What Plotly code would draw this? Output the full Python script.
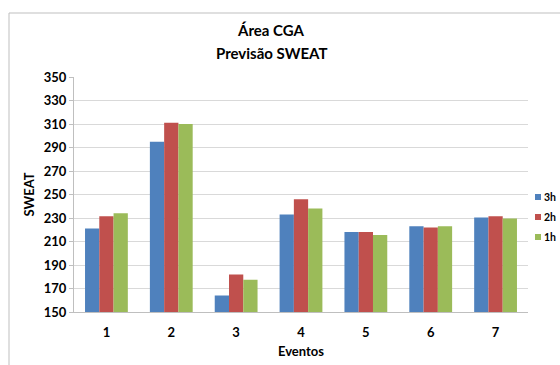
import plotly.graph_objects as go

# SWEAT forecasts per event, by lead time
eventos = ["1", "2", "3", "4", "5", "6", "7"]
series_names = ["3h", "2h", "1h"]
sweat_3h = [221, 295, 164, 233, 218, 223, 230.5]
sweat_2h = [231.5, 311, 182, 246, 218, 222, 231.5]
sweat_1h = [234, 310, 177.5, 238, 215.5, 223, 229.5]
y_ticks = [150, 170, 190, 210, 230, 250, 270, 290, 310, 330, 350]

colors = ["#4F81BD", "#C0504D", "#9BBB59"]
font_family = "Lato, 'Open Sans', sans-serif"

W, H = 560, 365
L, R, T, B = 74, 32, 77, 53
PW, PH = W - L - R, H - T - B


def px_x(px):
    return (px - L) / PW


def px_y(py):
    return (H - B - py) / PH


fig = go.Figure()
for name, vals, col in zip(series_names, [sweat_3h, sweat_2h, sweat_1h], colors):
    fig.add_trace(go.Bar(
        x=eventos, y=vals, name=name, marker_color=col,
        marker_line_width=0, showlegend=False,
    ))

fig.update_layout(
    width=W, height=H,
    margin=dict(l=L, r=R, t=T, b=B, autoexpand=False),
    paper_bgcolor="white", plot_bgcolor="white",
    barmode="group", bargap=0.34, bargroupgap=0,
    font=dict(family=font_family, color="#000000"),
    showlegend=False,
)

# two-line chart title
for text, py in [("Área CGA", 30), ("Previsão SWEAT", 53)]:
    fig.add_annotation(
        text=f"<b>{text}</b>", xref="paper", yref="paper",
        x=px_x(271), y=px_y(py), xanchor="center", yanchor="middle",
        showarrow=False, font=dict(size=15, family=font_family),
    )

# legend: small squares with series names on the right
for (name, col), py in zip(zip(series_names, colors), [197, 217, 237]):
    fig.add_shape(type="rect", xref="paper", yref="paper",
                  x0=px_x(535), x1=px_x(541), y0=px_y(py + 3), y1=px_y(py - 3),
                  fillcolor=col, line=dict(width=0))
    fig.add_annotation(
        text=f"<b>{name}</b>", xref="paper", yref="paper",
        x=px_x(542), y=px_y(py), xanchor="left", yanchor="middle",
        showarrow=False, font=dict(size=10.5, family=font_family),
    )

fig.update_xaxes(
    title=dict(text="<b>Eventos</b>", font=dict(size=13), standoff=8),
    tickfont=dict(size=13, weight="bold"),
    showgrid=False, showline=True, linecolor="#bfbfbf", linewidth=1,
    ticks="", ticklabelstandoff=8,
)
fig.update_yaxes(
    title=dict(text="<b>SWEAT</b>", font=dict(size=13), standoff=6),
    range=[150, 350], tickvals=y_ticks,
    tickfont=dict(size=13, weight="bold"),
    showgrid=True, gridcolor="#d9d9d9", gridwidth=1,
    showline=True, linecolor="#bfbfbf", linewidth=1,
    ticks="outside", ticklen=4, tickcolor="#bfbfbf",
    zeroline=False,
)

# outer chart-area frame
fig.add_shape(type="line", xref="paper", yref="paper",
              x0=px_x(9), x1=px_x(W + 5), y0=px_y(13), y1=px_y(13),
              line=dict(color="#bfbfbf", width=1))
fig.add_shape(type="line", xref="paper", yref="paper",
              x0=px_x(9), x1=px_x(9), y0=px_y(13), y1=px_y(H + 5),
              line=dict(color="#bfbfbf", width=1))

fig.write_html("out.html")
